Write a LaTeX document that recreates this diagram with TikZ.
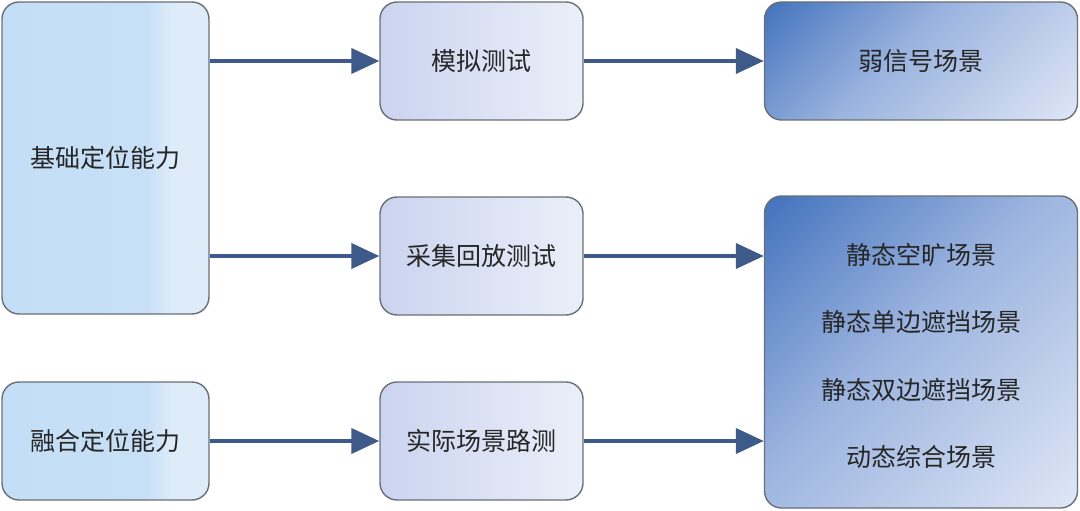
\documentclass[tikz,border=0pt]{standalone}
\usepackage{fontspec}
\newfontfamily\cjk{Noto Sans CJK SC}
\usetikzlibrary{arrows.meta}
\definecolor{lblueL}{HTML}{C3DEF6}
\definecolor{lblueR}{HTML}{DEECFA}
\definecolor{lavL}{HTML}{CBD4F0}
\definecolor{lavR}{HTML}{EBEFF9}
\definecolor{dblue}{HTML}{4675BE}
\definecolor{mblue}{HTML}{9AB3DF}
\definecolor{pblue}{HTML}{DDE5F5}
\definecolor{arrowc}{HTML}{3D5A88}
\definecolor{edgec}{HTML}{6A6E75}
\definecolor{txtc}{HTML}{262626}
\pgfdeclarehorizontalshading{leftshade}{100bp}{color(0bp)=(lblueL); color(25bp)=(lblueL); color(60bp)=(lblueL!85!lblueR); color(66bp)=(lblueR); color(100bp)=(lblueR)}
\pgfdeclarehorizontalshading{midshade}{100bp}{color(0bp)=(lavL); color(25bp)=(lavL); color(75bp)=(lavR); color(100bp)=(lavR)}
\pgfdeclareverticalshading{diagshade}{100bp}{color(0bp)=(pblue); color(16bp)=(pblue); color(55bp)=(mblue); color(84bp)=(dblue); color(100bp)=(dblue)}
\tikzset{
  boxbase/.style={draw=edgec, line width=1.4pt, rounded corners=17pt, inner sep=0pt,
    text=txtc, font=\cjk\fontsize{25}{30}\selectfont},
  leftbox/.style={boxbase, shading=leftshade},
  midbox/.style={boxbase, shading=midshade},
  rightbox/.style={boxbase, shading=diagshade, shading angle=45},
  flow/.style={draw=arrowc, line width=4pt, -{Triangle[length=28pt,width=25pt]}},
}
\begin{document}
\begin{tikzpicture}[x=1pt,y=-1pt]
\useasboundingbox (0,0) rectangle (1080,511);
\node[leftbox, minimum width=207pt, minimum height=312pt] (A) at (105.5,158) {基础定位能力};
\node[leftbox, minimum width=207pt, minimum height=118pt] (B) at (105.5,441) {融合定位能力};
\node[midbox, minimum width=203pt, minimum height=118pt] (M1) at (481.5,61) {模拟测试};
\node[midbox, minimum width=203pt, minimum height=118pt] (M2) at (481.5,256) {采集回放测试};
\node[midbox, minimum width=203pt, minimum height=118pt] (M3) at (481.5,441) {实际场景路测};
\node[rightbox, minimum width=313pt, minimum height=118pt] (R1) at (921,61) {弱信号场景};
\node[rightbox, minimum width=313pt, minimum height=312pt] (R2) at (921,352) {};
\node[text=txtc, font=\cjk\fontsize{25}{67.5}\selectfont, align=center, inner sep=0pt] (R2t) at (921,356)
  {静态空旷场景\\静态单边遮挡场景\\静态双边遮挡场景\\动态综合场景};
\draw[flow] (A.east |- M1.west) -- (M1.west);
\draw[flow] (A.east |- M2.west) -- (M2.west);
\draw[flow] (B.east) -- (M3.west);
\draw[flow] (M1.east) -- (R1.west);
\draw[flow] (M2.east) -- (M2.east -| R2.west);
\draw[flow] (M3.east) -- (M3.east -| R2.west);
\end{tikzpicture}
\end{document}
